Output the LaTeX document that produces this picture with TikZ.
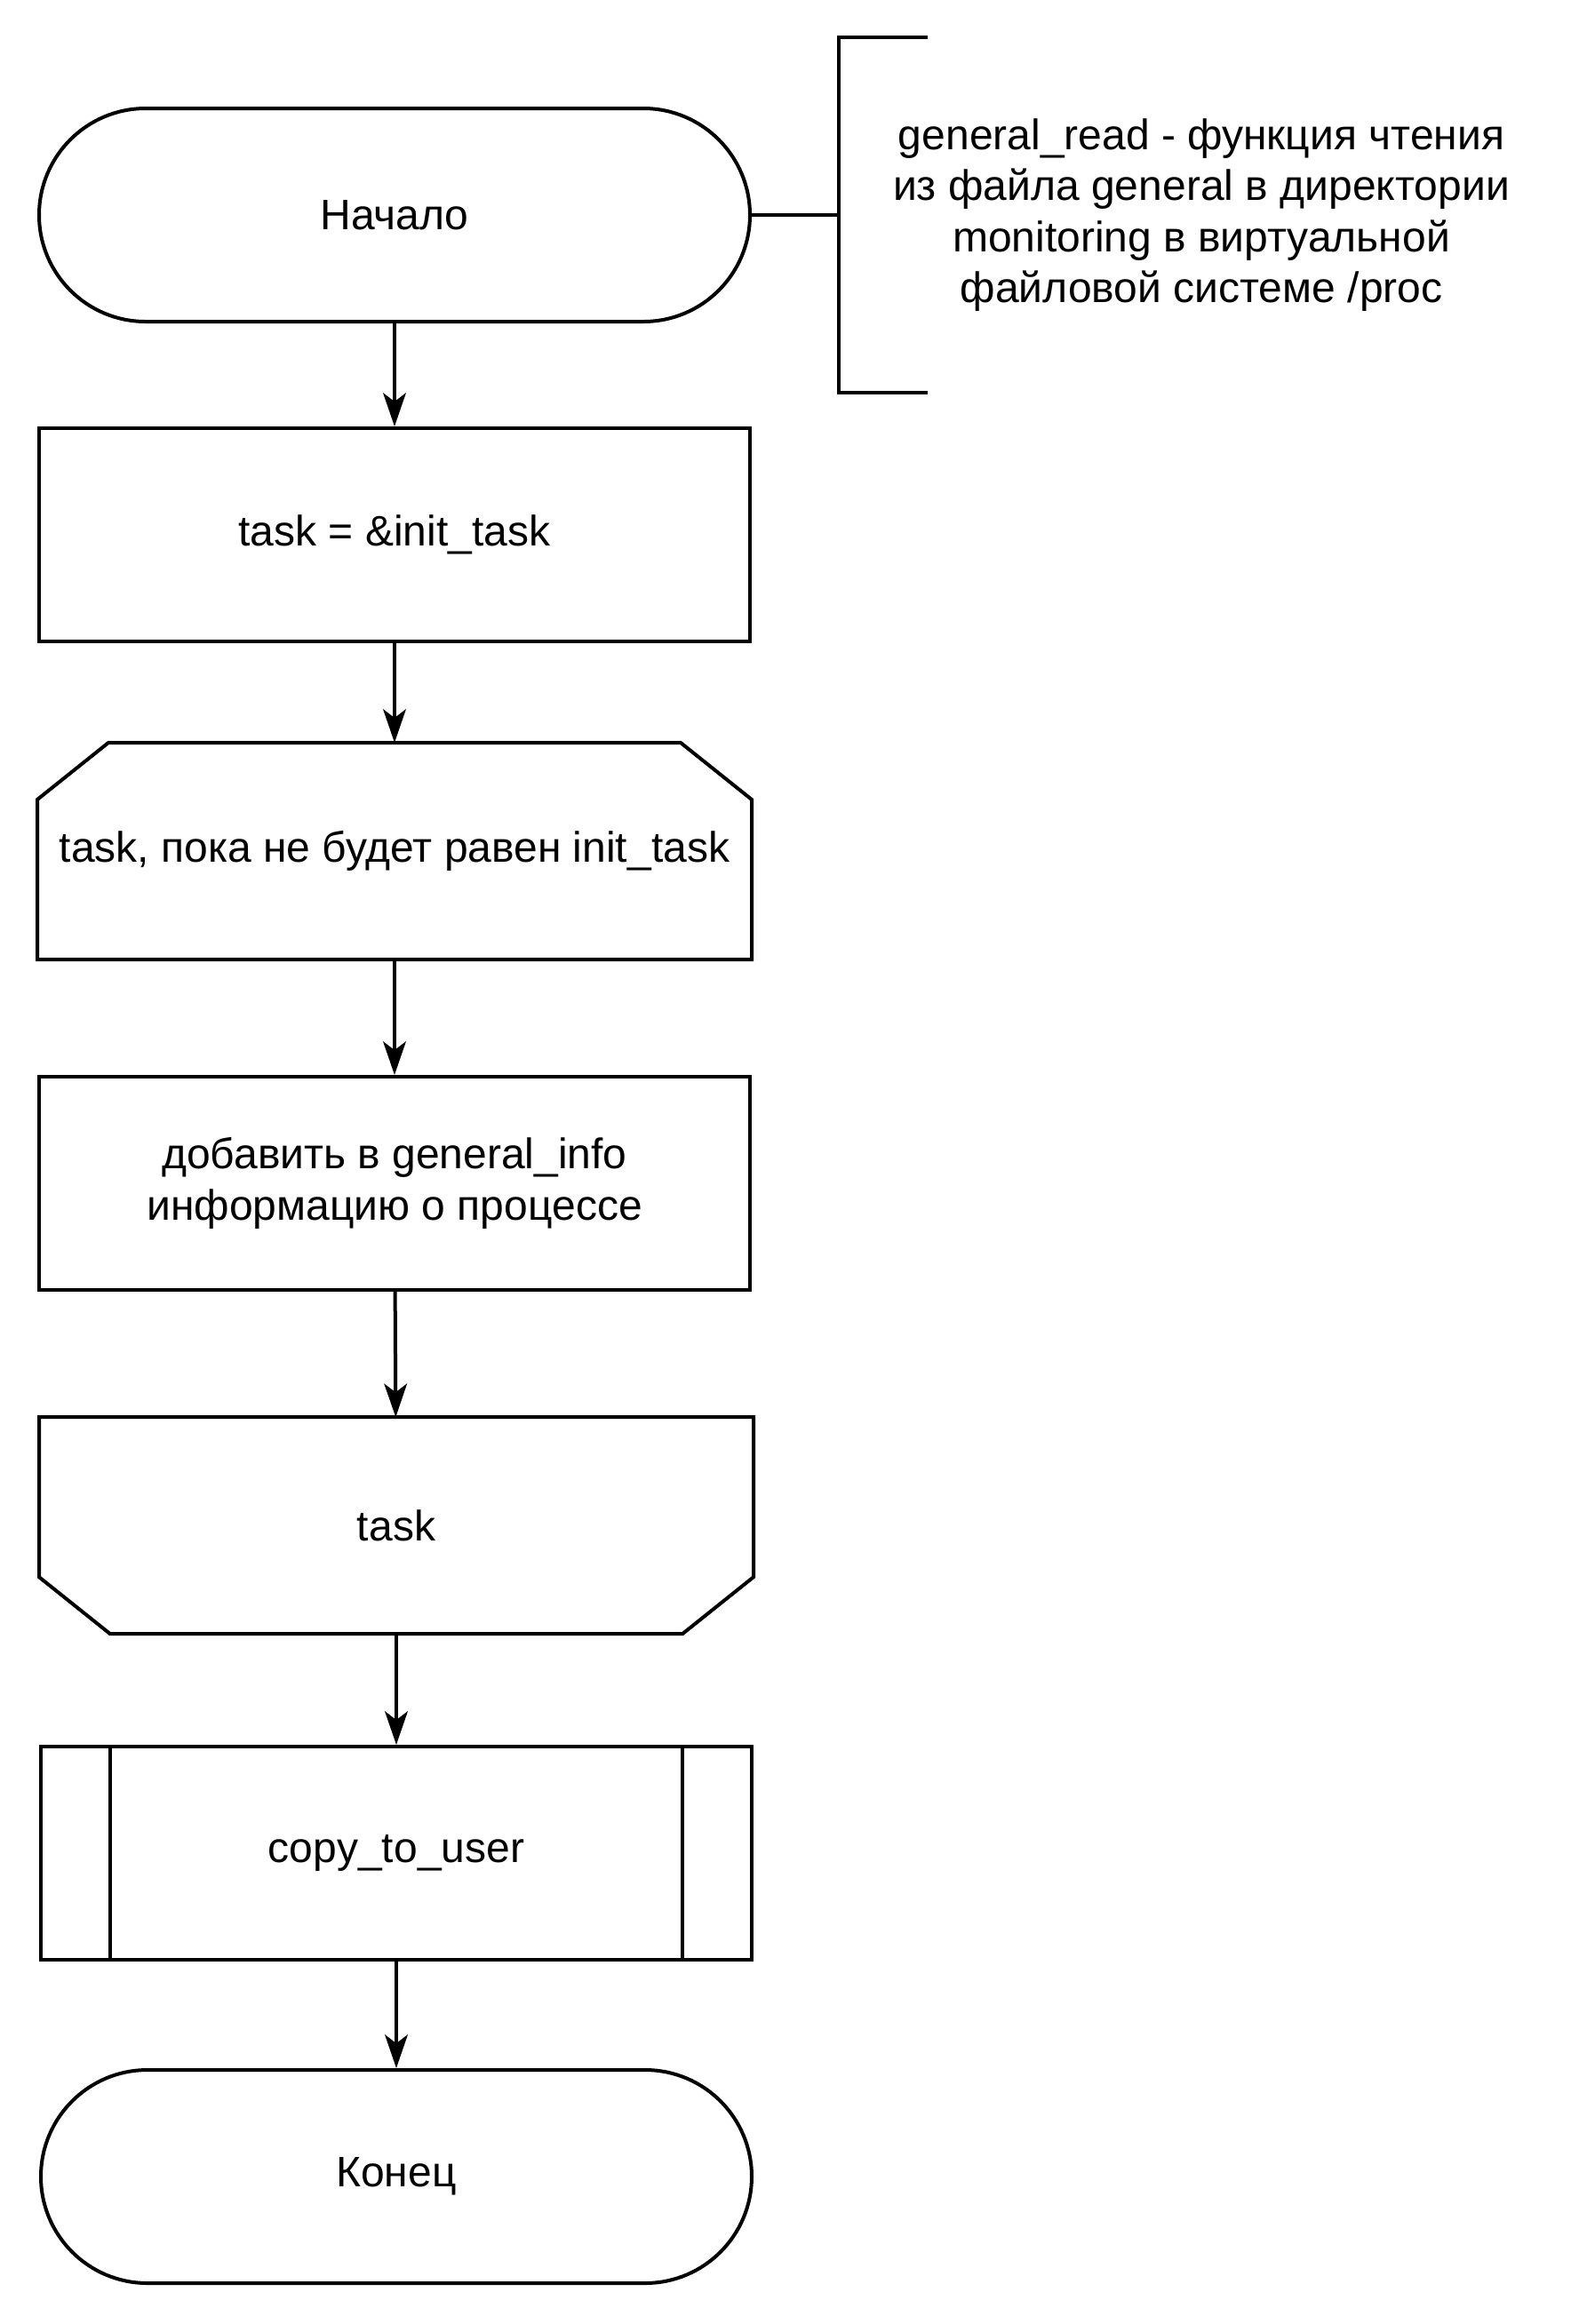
\documentclass[tikz,border=0pt]{standalone}
\usepackage{fontspec}
\setmainfont{Liberation Sans}
\usetikzlibrary{arrows.meta}

\begin{document}
\begin{tikzpicture}[x=1pt, y=-1pt, line width=1pt,
    box/.style={rectangle, minimum width=200pt, minimum height=60pt,
        align=center, inner sep=2pt, font=\fontsize{12}{14.4}\selectfont},
    blk/.style={box, draw},
    term/.style={blk, rounded corners=30pt},
    arr/.style={-{Stealth[length=9.4pt, width=6.4pt, inset=2.4pt]}}]
    \useasboundingbox (0, 0) rectangle (442, 654);

    \node[term] (start) at (111, 60.5) {Начало};
    \node[blk] (init) at (111, 150.5) {task = \&init\_task};
    \node[box] (loopA) at (111, 239.5) {task, пока не будет равен init\_task};
    \node[blk] (add) at (111, 333) {добавить в general\_info\\информацию о процессе};
    \node[box] (loopB) at (111.5, 429.3) {task};
    \node[blk] (copy) at (111.5, 521.5) {copy\_to\_user};
    \node[term] (stop) at (111.5, 612.5) {Конец};

    % loop limits
    \draw (loopA.south west) -- ([yshift=-16pt]loopA.north west)
        -- ([xshift=20pt]loopA.north west) -- ([xshift=-20pt]loopA.north east)
        -- ([yshift=-16pt]loopA.north east) -- (loopA.south east) -- cycle;
    \draw (loopB.north west) -- ([yshift=16pt]loopB.south west)
        -- ([xshift=20pt]loopB.south west) -- ([xshift=-20pt]loopB.south east)
        -- ([yshift=16pt]loopB.south east) -- (loopB.north east) -- cycle;
    \draw ([xshift=20pt]copy.north west) -- ([xshift=20pt]copy.south west);
    \draw ([xshift=-20pt]copy.north east) -- ([xshift=-20pt]copy.south east);

    % comment
    \coordinate (brace) at (236, 60.5);
    \draw (start) -- (brace);
    \draw ([xshift=25pt, yshift=50pt]brace) -- ([yshift=50pt]brace)
        -- ([yshift=-50pt]brace) -- ([xshift=25pt, yshift=-50pt]brace);
    \node[box, minimum width=0pt] (note) at (338, 60.5)
        {general\_read - функция чтения\\из файла general в директории\\monitoring в виртуальной\\файловой системе /proc};

    \draw[arr] (start) -- (init);
    \draw[arr] (init) -- (loopA);
    \draw[arr] (loopA) -- (add);
    \draw[arr] (add) -- (loopB);
    \draw[arr] (loopB) -- (copy);
    \draw[arr] (copy) -- (stop);
\end{tikzpicture}
\end{document}
